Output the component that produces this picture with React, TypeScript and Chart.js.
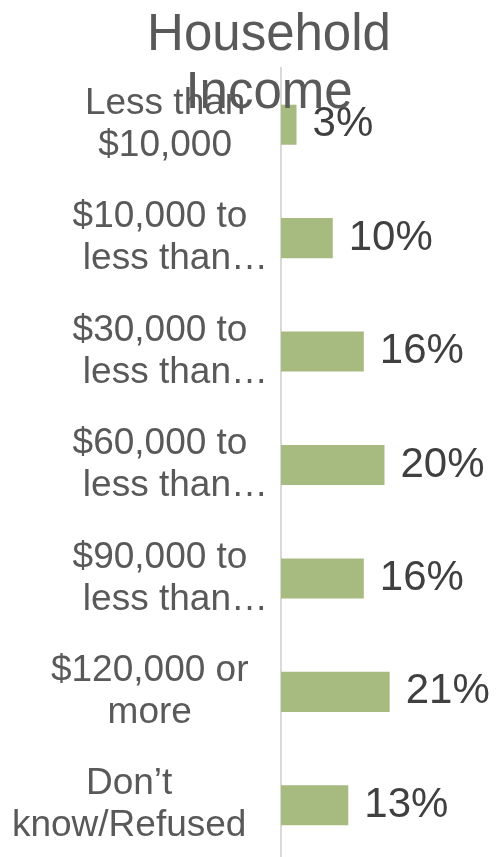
import React, { useEffect, useRef } from "react";
import { Chart, registerables } from "chart.js";

Chart.register(...registerables);

const TITLE_LINES = ["Household", "Income"];
const CATEGORIES: string[][] = [
  ["Less than", "$10,000"],
  ["$10,000 to", "less than…"],
  ["$30,000 to", "less than…"],
  ["$60,000 to", "less than…"],
  ["$90,000 to", "less than…"],
  ["$120,000 or", "more"],
  ["Don’t", "know/Refused"],
];
const VALUES = [3, 10, 16, 20, 16, 21, 13];
const X_MAX = 40;

// layout nudges (number of space widths; + leading, - trailing) to mimic per-label centering
const LABEL_NUDGE: number[][] = [
  [1, 1],
  [0, 3],
  [0, 3],
  [0, 3],
  [0, 3],
  [-2, -2],
  [-6, -6],
];

const FONT = '"Liberation Sans", Arial, sans-serif';
const TICK_SIZE = 37;
const AXIS_RIGHT = 281;
const LABEL_CENTER = 160;

function nudge(line: string, n: number) {
  if (n > 0) return " ".repeat(n) + line;
  if (n < 0) return line + " ".repeat(-n);
  return line;
}

const tickLines = CATEGORIES.map((lines, i) =>
  lines.map((l, j) => nudge(l, LABEL_NUDGE[i][j]))
);

export default function App() {
  const ref = useRef<HTMLCanvasElement>(null);

  useEffect(() => {
    if (!ref.current) return;
    const mctx = document.createElement("canvas").getContext("2d")!;
    mctx.font = `${TICK_SIZE}px ${FONT}`;
    let widest = 0;
    tickLines.forEach((ls) =>
      ls.forEach((l) => {
        widest = Math.max(widest, mctx.measureText(l).width);
      })
    );
    const tickPadding = AXIS_RIGHT - LABEL_CENTER - widest / 2;

    const overlay = {
      id: "overlay",
      afterDatasetsDraw(chart: any) {
        const ctx = chart.ctx;
        const meta = chart.getDatasetMeta(0);
        ctx.save();
        ctx.font = `42px ${FONT}`;
        ctx.fillStyle = "#404040";
        ctx.textAlign = "left";
        ctx.textBaseline = "middle";
        meta.data.forEach((bar: any, i: number) => {
          ctx.fillText(VALUES[i] + "%", bar.x + 16, bar.y);
        });
        ctx.restore();
      },
      afterDraw(chart: any) {
        const ctx = chart.ctx;
        ctx.save();
        ctx.font = `51px ${FONT}`;
        ctx.fillStyle = "#595959";
        ctx.textAlign = "center";
        ctx.textBaseline = "alphabetic";
        ctx.fillText(TITLE_LINES[0], 269, 50);
        ctx.fillText(TITLE_LINES[1], 269, 108);
        ctx.restore();
      },
    };

    const chart = new Chart(ref.current, {
      type: "bar",
      data: {
        labels: CATEGORIES,
        datasets: [
          {
            data: VALUES,
            backgroundColor: "#A7BA7F",
            borderWidth: 0,
            barPercentage: 0.353,
            categoryPercentage: 1,
          },
        ],
      },
      options: {
        indexAxis: "y",
        responsive: false,
        maintainAspectRatio: false,
        animation: false,
        layout: { padding: { top: 68, right: 12, left: 0, bottom: 0 } },
        plugins: {
          legend: { display: false },
          title: { display: false },
          tooltip: { enabled: false },
        },
        scales: {
          x: {
            display: false,
            min: 0,
            max: X_MAX,
          },
          y: {
            grid: { display: false, drawTicks: false },
            border: { display: true, color: "#D9D9D9", width: 2 },
            afterFit: (scale: any) => {
              scale.width = AXIS_RIGHT;
              scale.paddingTop = 0;
              scale.paddingBottom = 0;
            },
            ticks: {
              crossAlign: "center",
              padding: tickPadding,
              color: "#595959",
              font: { family: FONT, size: TICK_SIZE, lineHeight: 42 / TICK_SIZE },
              callback: (_v: any, i: number) => tickLines[i],
            },
          },
        },
      },
      plugins: [overlay],
    } as any);

    return () => chart.destroy();
  }, []);

  return (
    <div
      style={{
        position: "fixed",
        left: 0,
        top: 0,
        width: 500,
        height: 857,
        overflow: "hidden",
        background: "#fff",
      }}
    >
      <canvas ref={ref} width={500} height={862} style={{ width: 500, height: 862, display: "block" }} />
    </div>
  );
}
